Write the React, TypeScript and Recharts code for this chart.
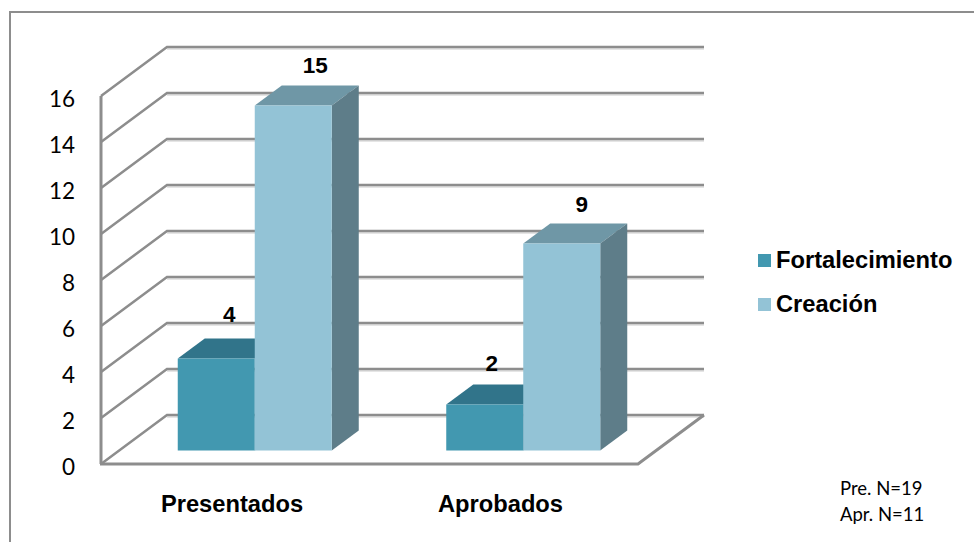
import React from "react";
import { BarChart, Bar, XAxis, YAxis, CartesianGrid, Legend, LabelList } from "recharts";

const categories = ["Presentados", "Aprobados"];
const fortalecimiento = [4, 2];
const creacion = [15, 9];
const yTicks = [0, 2, 4, 6, 8, 10, 12, 14, 16];
const notes = ["Pre. N=19", "Apr. N=11"];
const data = categories.map((name, i) => ({ name, fortalecimiento: fortalecimiento[i], creacion: creacion[i] }));

const W = 974, H = 542;
const LEFT = 120.75, RIGHT = 657.75, TOP = 82.5, BOTTOM = 450.5;
const AXIS_W = 60, AXIS_H = 40;
const WALL_X = 101, BACK_X = 167, BACK_R = 704, FRONT_R = 638;
const FRONT_DY = 13.5, BACK_DY = -35.5;
const DX = 27, DY = -20;
const GRID = "#8d8d8d", SHADOW = "#dcdcdc";
const BOLD = "'Liberation Sans', Arial, sans-serif";

function gridLine(p: any) {
  const y = p.y1;
  const isFloor = Math.abs(y - BOTTOM) < 1;
  const isTop = Math.abs(y - TOP) < 1;
  return (
    <g key={p.key ?? y}>
      <line x1={BACK_X} x2={BACK_R} y1={y + BACK_DY + 2} y2={y + BACK_DY + 2} stroke={SHADOW} strokeWidth={1.5} />
      <polyline
        points={`${WALL_X},${y + FRONT_DY} ${BACK_X},${y + BACK_DY} ${BACK_R},${y + BACK_DY}`}
        fill="none" stroke={GRID} strokeWidth={2.5} />
      {isFloor && (
        <polyline
          points={`${WALL_X - 1},${y + FRONT_DY} ${FRONT_R},${y + FRONT_DY} ${BACK_R},${y + BACK_DY}`}
          fill="none" stroke={GRID} strokeWidth={3} />
      )}
      {isTop && (
        <line x1={WALL_X} x2={WALL_X} y1={y + FRONT_DY} y2={BOTTOM + FRONT_DY} stroke={GRID} strokeWidth={3} />
      )}
    </g>
  );
}

const box = (top: string, side: string) => (p: any) => {
  const { x, y, width, height, fill } = p;
  const r = x + width, b = y + height;
  return (
    <g>
      <polygon points={`${x},${y} ${x + DX},${y + DY} ${r + DX},${y + DY} ${r},${y}`} fill={top} />
      <polygon points={`${r},${y} ${r + DX},${y + DY} ${r + DX},${b + DY} ${r},${b}`} fill={side} />
      <rect x={x} y={y} width={width} height={height} fill={fill} />
    </g>
  );
};

// Label nudges per category: the source placed each label by hand.
const valueLabel = (dxs: number[], dys: number[]) => (p: any) => (
  <text x={p.x + p.width / 2 + dxs[p.index]} y={p.y + dys[p.index]} textAnchor="middle"
    fontFamily={BOLD} fontWeight="bold" fontSize={22.5} fill="#000">{p.value}</text>
);

const YTick = (p: any) => (
  <text x={75} y={p.y + 24} textAnchor="end" fontFamily="Lato" fontSize={22.5} fill="#000">{p.payload.value}</text>
);

const XTick = (p: any) => (
  <text x={p.x - 23} y={512} textAnchor="middle" fontFamily={BOLD} fontWeight="bold" fontSize={23.7} fill="#000">
    {p.payload.value}
  </text>
);

const LegendBox = (p: any) => (
  <div>
    {(p.payload || []).map((e: any) => (
      <div key={e.value} style={{ display: "flex", alignItems: "center", height: 44, fontFamily: BOLD, fontWeight: "bold", fontSize: 23.7, color: "#000", whiteSpace: "nowrap" }}>
        <span style={{ width: 13, height: 13, background: e.color, marginRight: 5, display: "inline-block" }} />
        {e.value}
      </div>
    ))}
  </div>
);

export default function App() {
  return (
    <div style={{ position: "absolute", left: 0, top: 0, width: W, height: H, overflow: "hidden", background: "#fff" }}>
      <div style={{ position: "absolute", left: 9, top: 11, width: W, height: H, borderLeft: "2px solid #8d8d8d", borderTop: "2px solid #8d8d8d" }} />
      <BarChart width={W} height={H} data={data} barGap={0} barSize={77}
        margin={{ left: LEFT - AXIS_W, right: W - RIGHT, top: TOP, bottom: H - BOTTOM - AXIS_H }}
        style={{ position: "absolute", left: 0, top: 0 }}>
        <CartesianGrid horizontal={gridLine as any} vertical={false} />
        <YAxis width={AXIS_W} domain={[0, 16]} ticks={yTicks} interval={0} axisLine={false} tickLine={false} tick={YTick as any} />
        <XAxis dataKey="name" height={AXIS_H} axisLine={false} tickLine={false} tick={XTick as any} />
        <Legend layout="horizontal" verticalAlign="middle" itemSorter={null} content={LegendBox as any}
          wrapperStyle={{ position: "absolute", left: 758, top: 238, width: 210, height: 88 }} />
        <Bar dataKey="fortalecimiento" name="Fortalecimiento" fill="#4298b0" isAnimationActive={false} shape={box("#31748a", "#2e6e82") as any}>
          <LabelList dataKey="fortalecimiento" content={valueLabel([13, 7], [-37, -34]) as any} />
        </Bar>
        <Bar dataKey="creacion" name="Creación" fill="#93c3d6" isAnimationActive={false} shape={box("#6f97a6", "#5e7d89") as any}>
          <LabelList dataKey="creacion" content={valueLabel([22, 20], [-33, -32]) as any} />
        </Bar>
      </BarChart>
      {notes.map((t, i) => (
        <div key={t} style={{ position: "absolute", left: 840, top: 476 + i * 26, fontFamily: "Lato", fontSize: 18.5, lineHeight: "24px", color: "#000", whiteSpace: "nowrap" }}>{t}</div>
      ))}
    </div>
  );
}
